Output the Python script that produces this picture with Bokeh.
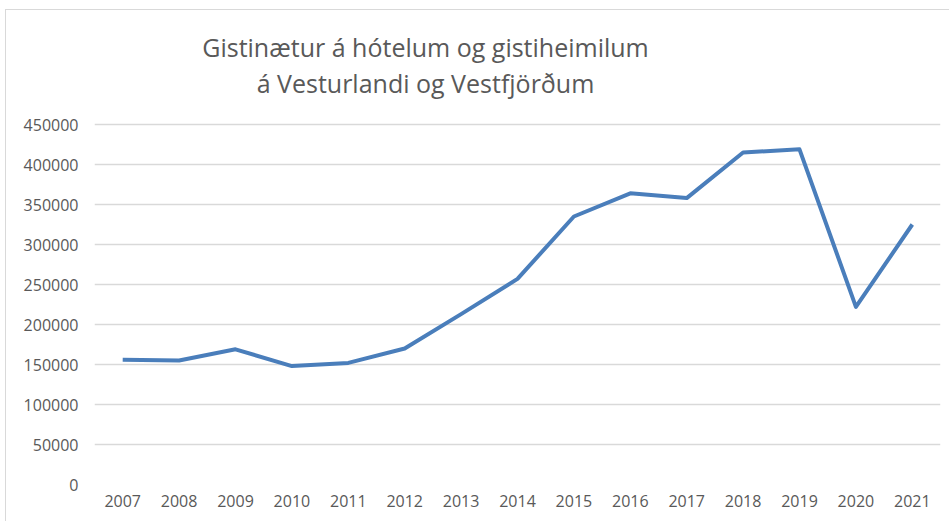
from bokeh.plotting import figure
from bokeh.models import Label, FixedTicker, NumeralTickFormatter
from bokeh.embed import file_html
from bokeh.resources import INLINE

years = ["2007", "2008", "2009", "2010", "2011", "2012", "2013", "2014",
         "2015", "2016", "2017", "2018", "2019", "2020", "2021"]
nights = [156000, 155000, 169000, 148000, 152000, 170000, 213000, 257000,
          335000, 364000, 358000, 415000, 419000, 222000, 325000]
y_ticks = [0, 50000, 100000, 150000, 200000, 250000, 300000, 350000, 400000, 450000]
title_lines = ["Gistinætur á hótelum og gistiheimilum", "á Vesturlandi og Vestfjörðum"]

FONT = "Open Sans"
GREY = "#595959"

# the frame reaches the top of the canvas so the title (inside it) is not clipped;
# gridlines/ticks only go to 450000
p = figure(x_range=years, y_range=(0, 592500), width=944, height=512,
           output_backend="svg", toolbar_location=None,
           min_border_left=88, min_border_right=10, min_border_top=0, min_border_bottom=38)
p.styles = {"border-top": "1px solid #d9d9d9", "border-left": "1px solid #d9d9d9",
            "margin-left": "5px", "margin-top": "9px"}
p.outline_line_color = None
p.background_fill_color = "white"
p.border_fill_color = "white"

p.line(years, nights, line_color="#4a7ebb", line_width=4, line_join="round")

p.xgrid.grid_line_color = None
p.ygrid.grid_line_color = "#d9d9d9"
p.ygrid.grid_line_width = 1.3

p.yaxis.ticker = FixedTicker(ticks=y_ticks)
p.yaxis.formatter = NumeralTickFormatter(format="0")
for ax in (p.xaxis, p.yaxis):
    ax.axis_line_color = None
    ax.major_tick_line_color = None
    ax.minor_tick_line_color = None
    ax.major_tick_out = 0
    ax.major_tick_in = 0
    ax.major_label_text_font = FONT
    ax.major_label_text_font_size = "16px"
    ax.major_label_text_color = GREY
p.yaxis.major_label_standoff = 16
p.xaxis.major_label_standoff = 10

# title lines: x in pixels from frame left, y in axis units above the gridlines
for line, yy in zip(title_lines, [547000, 502500]):
    p.add_layout(Label(x=331, y=yy, x_units="screen", y_units="data",
                       text=line, text_font=FONT, text_font_size="25px",
                       text_color=GREY, text_align="center", text_baseline="alphabetic"))

open("out.html", "w").write(file_html(p, INLINE))
